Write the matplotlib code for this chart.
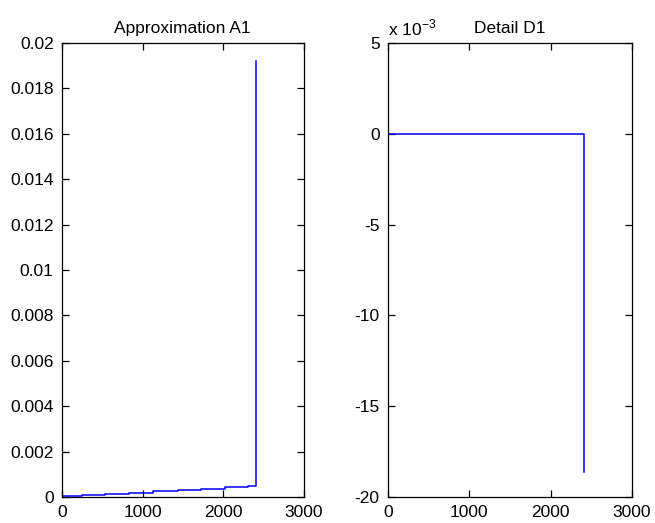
import matplotlib
matplotlib.use("Agg")
import matplotlib.pyplot as plt

plt.rcParams['font.family'] = ['Liberation Sans', 'DejaVu Sans']
plt.rcParams['font.size'] = 12.5
plt.rcParams['axes.unicode_minus'] = False

# approximation A1: slow staircase then a spike at the end
a1_x = [0, 250, 540, 830, 1125, 1435, 1730, 2020, 2310, 2410, 2410]
a1_y = [0.00003, 0.00008, 0.00013, 0.00019, 0.00025, 0.00030, 0.00036, 0.00042, 0.00048, 0.00048, 0.0192]

# detail D1: flat zero then drops at the end
d1_x = [0, 2410, 2410]
d1_y = [0.0, 0.0, -0.0186]

fig = plt.figure(figsize=(6.55, 5.23), dpi=100)
ax1 = fig.add_axes([62 / 655, 1 - 497 / 523, 241.5 / 655, 454 / 523])
ax2 = fig.add_axes([388 / 655, 1 - 497 / 523, 244 / 655, 454 / 523])

ax1.plot(a1_x, a1_y, color='#0000ff', lw=1.1, drawstyle='steps-post')
ax1.set_xlim(0, 3000)
ax1.set_ylim(0, 0.02)
ax1.set_xticks([0, 1000, 2000, 3000])
ax1.set_yticks([0, 0.002, 0.004, 0.006, 0.008, 0.01, 0.012, 0.014, 0.016, 0.018, 0.02])
ax1.set_yticklabels(['0', '0.002', '0.004', '0.006', '0.008', '0.01', '0.012',
                     '0.014', '0.016', '0.018', '0.02'])
ax1.set_title('Approximation A1', fontsize=12.5, pad=7)

ax2.plot(d1_x, [v * 1000 for v in d1_y], color='#0000ff', lw=1.1)
ax2.set_xlim(0, 3000)
ax2.set_ylim(-20, 5)
ax2.set_xticks([0, 1000, 2000, 3000])
ax2.set_yticks([-20, -15, -10, -5, 0, 5])
ax2.set_yticklabels(['-20', '-15', '-10', '-5', '0', '5'])
ax2.set_title('Detail D1', fontsize=12.5, pad=7)
ax2.text(0.0, 1.01, r'x 10$^{\mathregular{-3}}$', transform=ax2.transAxes, fontsize=12.5,
         ha='left', va='bottom')

for ax in (ax1, ax2):
    ax.tick_params(direction='in', top=True, right=True, length=5, width=0.9, pad=6)
    for s in ax.spines.values():
        s.set_linewidth(0.9)

fig.savefig('out.png', dpi=100)
